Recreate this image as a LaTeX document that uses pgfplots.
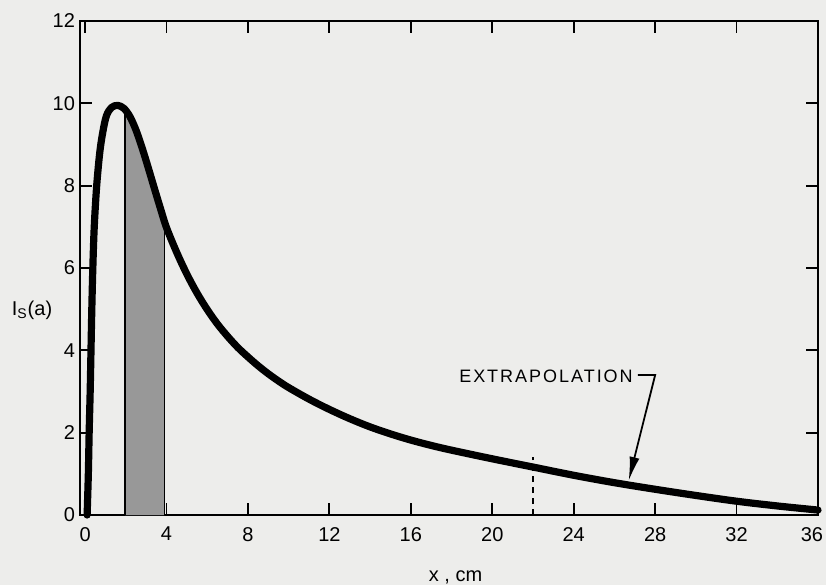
\documentclass[border=0pt]{standalone}
\usepackage{fontspec}
\setmainfont{Liberation Sans}
\newfontfamily\lettered[LetterSpace=11]{Liberation Sans}
\usepackage{pgfplots}
\pgfplotsset{compat=1.18}
\usetikzlibrary{arrows.meta}
\definecolor{paper}{RGB}{237,237,235}
\definecolor{shade}{RGB}{152,152,152}
\begin{document}
\begin{tikzpicture}
\fill[paper] (-40pt,-35pt) rectangle (373pt,257.5pt);
\begin{axis}[
 at={(0,0)}, anchor=south west,
 width=369pt, height=247pt, scale only axis,
 xmin=-0.25, xmax=36, ymin=0, ymax=12,
 xtick={0,4,...,36}, ytick={0,2,...,12},
 xticklabels={0,4,8,12,16,20,24,28,32,{\makebox[0pt]{\hspace*{-6pt}36}}},
 tick align=inside,
 major tick length=6pt,
 every tick/.style={black, line width=0.9pt},
 axis line style={line width=1.3pt},
 tick label style={font=\fontsize{10}{12}\selectfont},
 /pgf/number format/assume math mode=true,
 xticklabel style={yshift=-2.5pt},
 yticklabel style={xshift=1pt},
 clip=false,
]
% shaded strip under the curve
\addplot[fill=shade, draw=none] coordinates {
 (1.97,0) (1.97,9.84) (2.2,9.68) (2.5,9.35) (2.8,8.92) (3.1,8.44) (3.4,7.94) (3.7,7.45) (3.9,7.14) (3.9,0)
} -- cycle;
\addplot[black, line width=0.8pt] coordinates {(1.97,0) (1.97,9.8)};
\addplot[black, line width=0.8pt] coordinates {(3.9,0) (3.9,7.1)};
% dashed marker
\addplot[black, line width=0.7pt, dash pattern=on 3pt off 2.5pt] coordinates {(22,0) (22,1.42)};
% main curve
\addplot[black, line width=3.6pt, smooth, tension=0.55, line join=round, line cap=round] table {
x y
0.10 0
0.16 1
0.20 2
0.25 3
0.29 4
0.33 5
0.38 6
0.45 7
0.57 8
0.72 8.8
0.87 9.3
1.05 9.7
1.3 9.9
1.6 9.95
1.9 9.88
2.2 9.68
2.5 9.35
2.8 8.92
3.1 8.44
3.4 7.94
3.7 7.45
4.0 6.98
4.5 6.38
5.0 5.85
5.5 5.39
6.0 4.99
6.5 4.64
7.0 4.34
7.5 4.07
8.0 3.84
8.5 3.625
9.0 3.43
9.5 3.255
10.0 3.095
11.0 2.815
12.0 2.565
13.0 2.34
14.0 2.14
15.0 1.97
16.0 1.82
17.0 1.69
18.0 1.575
20.0 1.365
22.0 1.165
24.0 0.965
26.0 0.785
28.0 0.625
30.0 0.475
32.0 0.335
34.0 0.22
36.0 0.12
};
\node[anchor=west, inner sep=0pt, font=\lettered\fontsize{9}{11}\selectfont] at (axis cs:18.36,3.38) {EXTRAPOLATION};
\draw[line width=0.9pt, -{Latex[length=12pt,width=5pt]}] (axis cs:27.15,3.40) -- (axis cs:28.0,3.40) -- (axis cs:26.7,0.83);
\node[font=\fontsize{10}{12}\selectfont] at (axis cs:18.2,0) [yshift=-31pt] {x , cm};
\node[font=\fontsize{10}{12}\selectfont] at (axis cs:-0.25,4.98) [xshift=-24pt] {I\textsubscript{S}(a)};
\end{axis}
\pgfresetboundingbox
\path[use as bounding box] (-40pt,-35pt) rectangle (373pt,257.5pt);
\end{tikzpicture}
\end{document}
